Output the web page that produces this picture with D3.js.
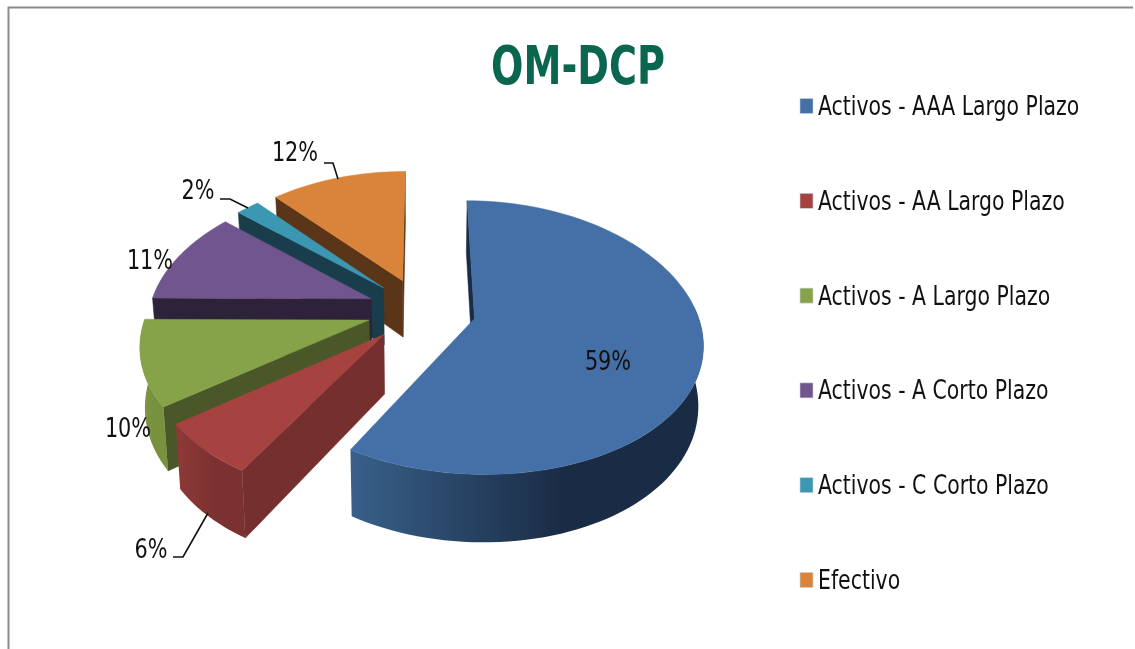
<!DOCTYPE html>
<html><head><meta charset="utf-8">
<script src="https://cdn.jsdelivr.net/npm/d3@7/dist/d3.min.js"></script>
<style>html,body{margin:0;padding:0;background:#fff}svg{display:block}</style>
</head><body><div id="c"></div>
<script>
const categories = ["Activos - AAA Largo Plazo","Activos - AA Largo Plazo","Activos - A Largo Plazo","Activos - A Corto Plazo","Activos - C Corto Plazo","Efectivo"];
const percents = [58.5,6.4,10.2,11.2,2.0,11.7];
const topColors = ["#4470a7","#a64340","#87a34a","#71558f","#3c97b2","#da843b"];
const wallColors = ["#1a2c45","#752f2e","#4a5728","#2d2239","#193d4b","#5a3517"];
const arcLeftColors = ["#38608a","#8e3a38","#7d9744","#5c4575","#31798f","#b56c30"];
const arcRightColors = ["#1a2c45","#7b3130","#78913f","#5c4575","#31798f","#b56c30"];
const drawOrder = [5,4,3,2,1,0];
const labelSpots = [[608,360],[151,548],[128,427],[150,259],[198,189],[295,151]];
const leaders = [null,[[173,557],[183,557],[208,513]],null,null,[[220,199],[230,199],[248,208]],[[324,163],[333,163],[338,179]]];

const W=1135,H=649;
const svg=d3.select("#c").append("svg").attr("width",W).attr("height",H).style("filter","blur(0.45px)");
const defs=svg.append("defs");
svg.append("rect").attr("width",W).attr("height",H).attr("fill","#fff");
svg.append("path").attr("d",`M8.5,${H}V7.5H${W-2}`).attr("fill","none").attr("stroke","#8c8c8c").attr("stroke-width",2);

const cx=421.5,cy=310,Rx=222,Ry=131.8,persp=0.1376,perspX=0.16,explode=0.245,depth=58,zShrink=0.018;
const rot=0;
function project(U,V,z){const w=1-persp*V,wx=1-perspX*V,s=1-zShrink*z;
  return [cx+Rx*U/wx*s, cy+Ry*V/w+z*depth/w];}
const pie=d3.pie().sort(null).startAngle(rot).endAngle(rot+2*Math.PI);
const arcs=pie(percents);
const line=d3.line();
function pt(c,a,r){return [c[0]+r*Math.sin(a), c[1]-r*Math.cos(a)];}
function samples(a0,a1){const n=Math.max(2,Math.ceil((a1-a0)/(Math.PI/90)));return d3.range(n+1).map(i=>a0+(a1-a0)*i/n);}

drawOrder.forEach(i=>{
  const d=arcs[i],mid=(d.startAngle+d.endAngle)/2;
  const c=[explode*Math.sin(mid),-explode*Math.cos(mid)];
  const g=svg.append("g").attr("class","slice");
  const P=(p,z)=>project(p[0],p[1],z);
  const radial=a=>{const o=pt(c,a,1);return [P(c,0),P(o,0),P(o,1),P(c,1)];};
  [[d.startAngle,-Math.PI/2],[d.endAngle,Math.PI/2]].forEach(([a,n])=>{
    if(-Math.cos(a+n)>-0.05){
      g.append("path").attr("d",line(radial(a))+"Z").attr("fill",wallColors[i]).attr("stroke",wallColors[i]).attr("stroke-width",.5);
    }
  });
  const a0=Math.max(d.startAngle,Math.PI*0.47),a1=Math.min(d.endAngle,Math.PI*1.5);
  if(a1>a0){
    const as=samples(a0,a1);
    const up=as.map(a=>P(pt(c,a,1),0)),dn=as.map(a=>P(pt(c,a,1),1)).reverse();
    const xs=up.map(p=>p[0]);
    const id="rim"+i;
    const gr=defs.append("linearGradient").attr("id",id).attr("gradientUnits","userSpaceOnUse")
      .attr("x1",d3.min(xs)).attr("x2",d3.max(xs)).attr("y1",0).attr("y2",0);
    gr.append("stop").attr("offset",0).attr("stop-color",arcLeftColors[i]);
    gr.append("stop").attr("offset",0.6).attr("stop-color",arcRightColors[i]);
    gr.append("stop").attr("offset",1).attr("stop-color",arcRightColors[i]);
    g.append("path").attr("d",line(up.concat(dn))+"Z").attr("fill",`url(#${id})`);
  }
  const top=[P(c,0)].concat(samples(d.startAngle,d.endAngle).map(a=>P(pt(c,a,1),0)));
  g.append("path").attr("d",line(top)+"Z").attr("fill",topColors[i]).attr("stroke",topColors[i]).attr("stroke-width",.5);
});

const font='"DejaVu Sans"';
function sx(sel,x,y,k){sel.attr("transform",`translate(${x},${y}) scale(${k},1)`);return sel;}
leaders.forEach(l=>{if(l)svg.append("path").attr("d",line(l)).attr("fill","none").attr("stroke","#111").attr("stroke-width",1.6);});
percents.forEach((v,i)=>{
  const [x,y]=labelSpots[i];
  sx(svg.append("text").attr("text-anchor","middle").attr("font-family",font).attr("font-size",26).attr("fill","#111").text(Math.round(v)+"%"),x,y+9.5,0.8);
});
sx(svg.append("text").attr("text-anchor","middle").attr("font-family",font).attr("font-weight","bold").attr("font-size",53).attr("fill","#0b6650").text("OM-DCP"),578,84,0.72);
categories.forEach((n,i)=>{
  const y=d3.scaleLinear().domain([0,5]).range([106,580])(i);
  svg.append("rect").attr("x",800).attr("y",y-7.5).attr("width",13).attr("height",15).attr("fill",topColors[i]).attr("stroke","#c9d3df").attr("stroke-width",.6);
  sx(svg.append("text").attr("font-family",font).attr("font-size",26).attr("fill","#111").text(n),818,y+9,0.786);
});
</script></body></html>
